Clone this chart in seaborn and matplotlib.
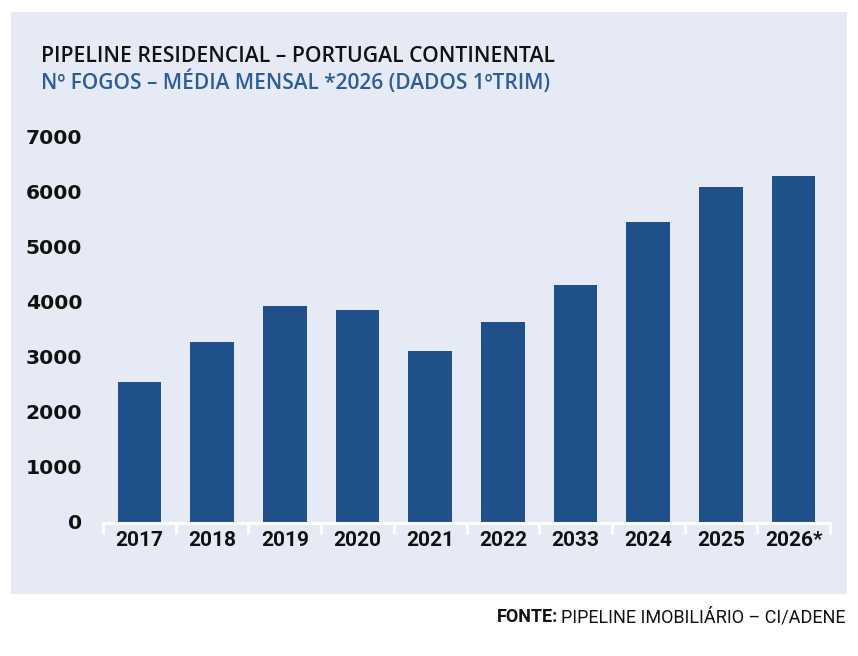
import matplotlib
matplotlib.use("Agg")
import matplotlib.pyplot as plt
import seaborn as sns
import pandas as pd
import numpy as np
from matplotlib.patches import Rectangle
from matplotlib.ticker import FixedLocator

# ---- data ----
years = ["2017", "2018", "2019", "2020", "2021", "2022", "2033", "2024", "2025", "2026*"]
fogos = [2535, 3265, 3915, 3845, 3100, 3625, 4300, 5445, 6080, 6280]
y_ticks = [0, 1000, 2000, 3000, 4000, 5000, 6000, 7000]
title = "PIPELINE RESIDENCIAL – PORTUGAL CONTINENTAL"
subtitle = "Nº FOGOS – MÉDIA MENSAL *2026 (DADOS 1ºTRIM)"
source_bold = "FONTE:"
source_rest = "PIPELINE IMOBILIÁRIO – CI/ADENE"

# ---- style ----
W, H = 858, 656
BAR = "#20508A"
PANEL = "#E6EAF4"
SUB = "#2B5C9C"

sns.set_theme(style="white")
plt.rcParams['font.family'] = ['Roboto', 'DejaVu Sans']

fig = plt.figure(figsize=(W / 100, H / 100), dpi=100)
fig.patch.set_facecolor("white")
fig.patches.append(Rectangle((11 / W, 1 - 594 / H), (847 - 11) / W, (594 - 12) / H,
                             transform=fig.transFigure, facecolor=PANEL,
                             edgecolor="none", zorder=-5))

ax = fig.add_axes([103 / W, 1 - 521.5 / H, 727 / W, (521.5 - 136.7) / H])
ax.set_facecolor("none")
ax.set_zorder(2)

df = pd.DataFrame({"ano": years, "fogos": fogos})
sns.barplot(data=df, x="ano", y="fogos", color=BAR, saturation=1, width=0.6,
            edgecolor="none", linewidth=0, ax=ax)

ax.set_xlim(-0.5, len(years) - 0.5)
ax.set_ylim(0, 7000)
ax.set_xlabel("")
ax.set_ylabel("")

for s in ["top", "right", "left"]:
    ax.spines[s].set_visible(False)
ax.spines["bottom"].set_color("white")
ax.spines["bottom"].set_linewidth(2.2)
ax.spines["bottom"].set_position(("outward", 1))

ax.set_xticks(range(len(years)))
ax.set_xticklabels(years, fontsize=15, fontweight="bold", color="#111111",
                   family=["Roboto", "DejaVu Sans"])
ax.tick_params(axis="x", which="major", length=0, pad=5.5)
ax.xaxis.set_minor_locator(FixedLocator(np.arange(-0.5, len(years), 1.0)))
ax.tick_params(axis="x", which="minor", bottom=True, length=8, width=2.0,
               color="white", direction="out")

ax.set_yticks(y_ticks)
ax.set_yticklabels([str(v) for v in y_ticks], fontsize=14.6, fontweight="bold",
                   color="#111111", family=["DejaVu Sans"])
ax.tick_params(axis="y", length=0, pad=15)
ax.grid(False)

fig.text(41 / W, 1 - 61.7 / H, title, ha="left", va="baseline",
         fontsize=15.2, fontweight="semibold", color="#111111",
         family=["Open Sans", "DejaVu Sans"])
fig.text(41 / W, 1 - 89.3 / H, subtitle, ha="left", va="baseline",
         fontsize=15.0, fontweight="semibold", color=SUB,
         family=["Open Sans", "DejaVu Sans"])

t_rest = fig.text(845.7 / W, 1 - 622.3 / H, source_rest, ha="right", va="baseline",
                  fontsize=13, color="#111111", family=["Roboto", "DejaVu Sans"])
fig.canvas.draw()
bb = t_rest.get_window_extent(fig.canvas.get_renderer())
fig.text((bb.x0 - 3) / W, 1 - 622.3 / H, source_bold, ha="right", va="baseline",
         fontsize=13, fontweight="bold", color="#111111", family=["Roboto", "DejaVu Sans"])

fig.savefig("out.png", dpi=100, facecolor="white")
